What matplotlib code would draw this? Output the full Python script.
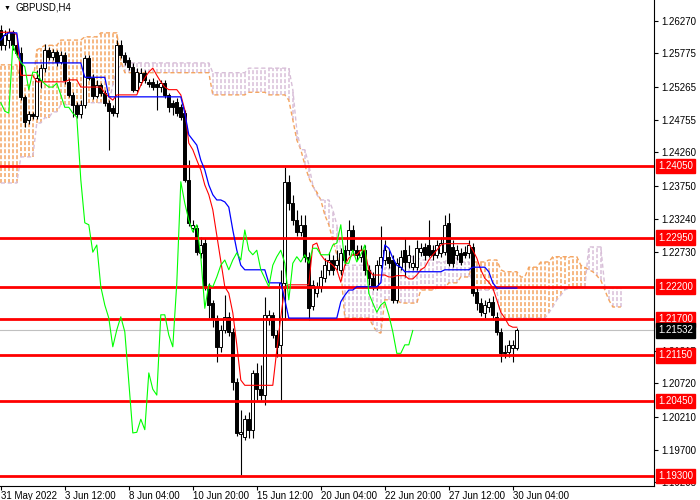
import matplotlib
matplotlib.use('Agg')
import matplotlib.pyplot as plt
import matplotlib.transforms as mtransforms
from matplotlib.colors import to_rgba
import numpy as np

plt.rcParams['font.family'] = ['Liberation Sans', 'DejaVu Sans']

# GBPUSD H4 candles, bar 0 = 31 May 2022 20:00
opens = [1.2613, 1.2590, 1.2598, 1.2610, 1.2590, 1.2578, 1.2511, 1.2476, 1.2485, 1.2482,
         1.2537, 1.2555, 1.2583, 1.2572, 1.2580, 1.2564, 1.2575, 1.2534, 1.2514, 1.2499,
         1.2485, 1.2499, 1.2571, 1.2540, 1.2512, 1.2529, 1.2517, 1.2502, 1.2494, 1.2486,
         1.2590, 1.2575, 1.2567, 1.2557, 1.2522, 1.2534, 1.2548, 1.2534, 1.2534, 1.2531,
         1.2526, 1.2532, 1.2514, 1.2502, 1.2503, 1.2495, 1.2486, 1.2384, 1.2310, 1.2310,
         1.2272, 1.2287, 1.2220, 1.2195, 1.2172, 1.2128, 1.2154, 1.2174, 1.2151, 1.2074,
         1.1994, 1.1990, 1.2017, 1.2001, 1.2088, 1.2063, 1.2054, 1.2169, 1.2177, 1.2146,
         1.2131, 1.2226, 1.2381, 1.2348, 1.2322, 1.2304, 1.2315, 1.2266, 1.2190, 1.2210,
         1.2220, 1.2233, 1.2246, 1.2261, 1.2253, 1.2246, 1.2276, 1.2276, 1.2307, 1.2276,
         1.2266, 1.2276, 1.2246, 1.2233, 1.2220, 1.2253, 1.2261, 1.2266, 1.2261, 1.2200,
         1.2250, 1.2276, 1.2258, 1.2250, 1.2250, 1.2273, 1.2281, 1.2284, 1.2276, 1.2269,
         1.2272, 1.2273, 1.2318, 1.2281, 1.2269, 1.2272, 1.2273, 1.2272, 1.2281, 1.2212,
         1.2195, 1.2180, 1.2189, 1.2197, 1.2174, 1.2151, 1.2120, 1.2120, 1.2126, 1.2126]
highs = [1.2621, 1.2613, 1.2617, 1.2613, 1.2601, 1.2587, 1.2514, 1.2489, 1.2488, 1.2552,
         1.2561, 1.2592, 1.2587, 1.2584, 1.2583, 1.2581, 1.2580, 1.2540, 1.2518, 1.2503,
         1.2506, 1.2575, 1.2575, 1.2546, 1.2537, 1.2532, 1.2522, 1.2506, 1.2499, 1.2598,
         1.2598, 1.2580, 1.2572, 1.2563, 1.2555, 1.2555, 1.2552, 1.2538, 1.2540, 1.2537,
         1.2537, 1.2537, 1.2517, 1.2506, 1.2509, 1.2500, 1.2491, 1.2414, 1.2322, 1.2315,
         1.2296, 1.2295, 1.2226, 1.2200, 1.2177, 1.2161, 1.2207, 1.2181, 1.2157, 1.2080,
         1.2031, 1.2024, 1.2028, 1.2092, 1.2103, 1.2100, 1.2204, 1.2184, 1.2181, 1.2154,
         1.2246, 1.2404, 1.2391, 1.2361, 1.2338, 1.2330, 1.2330, 1.2273, 1.2230, 1.2227,
         1.2246, 1.2264, 1.2273, 1.2269, 1.2276, 1.2279, 1.2284, 1.2322, 1.2315, 1.2284,
         1.2284, 1.2284, 1.2253, 1.2243, 1.2261, 1.2313, 1.2292, 1.2276, 1.2269, 1.2264,
         1.2276, 1.2295, 1.2284, 1.2269, 1.2292, 1.2287, 1.2287, 1.2322, 1.2284, 1.2292,
         1.2296, 1.2330, 1.2333, 1.2292, 1.2284, 1.2279, 1.2282, 1.2292, 1.2287, 1.2218,
         1.2203, 1.2200, 1.2203, 1.2206, 1.2181, 1.2157, 1.2131, 1.2138, 1.2138, 1.2157]
lows = [1.2583, 1.2583, 1.2586, 1.2583, 1.2572, 1.2506, 1.2465, 1.2469, 1.2477, 1.2477,
        1.2525, 1.2549, 1.2567, 1.2567, 1.2558, 1.2561, 1.2531, 1.2511, 1.2480, 1.2479,
        1.2479, 1.2494, 1.2537, 1.2508, 1.2509, 1.2512, 1.2497, 1.2430, 1.2482, 1.2480,
        1.2571, 1.2560, 1.2552, 1.2518, 1.2518, 1.2529, 1.2532, 1.2526, 1.2522, 1.2491,
        1.2518, 1.2509, 1.2488, 1.2483, 1.2482, 1.2476, 1.2381, 1.2313, 1.2304, 1.2269,
        1.2264, 1.2215, 1.2172, 1.2158, 1.2105, 1.2120, 1.2149, 1.2145, 1.2062, 1.1991,
        1.1932, 1.1985, 1.1988, 1.1988, 1.2046, 1.2046, 1.2039, 1.2161, 1.2141, 1.2112,
        1.2046, 1.2169, 1.2338, 1.2315, 1.2298, 1.2298, 1.2258, 1.2169, 1.2184, 1.2204,
        1.2212, 1.2227, 1.2238, 1.2238, 1.2246, 1.2238, 1.2253, 1.2269, 1.2269, 1.2261,
        1.2258, 1.2238, 1.2223, 1.2215, 1.2215, 1.2249, 1.2253, 1.2249, 1.2195, 1.2195,
        1.2246, 1.2235, 1.2249, 1.2246, 1.2246, 1.2267, 1.2261, 1.2266, 1.2261, 1.2264,
        1.2266, 1.2269, 1.2252, 1.2250, 1.2261, 1.2253, 1.2264, 1.2264, 1.2206, 1.2184,
        1.2175, 1.2172, 1.2181, 1.2169, 1.2146, 1.2105, 1.2111, 1.2112, 1.2105, 1.2123]
closes = [1.2590, 1.2606, 1.2610, 1.2590, 1.2578, 1.2511, 1.2472, 1.2485, 1.2482, 1.2540,
          1.2555, 1.2583, 1.2572, 1.2580, 1.2564, 1.2575, 1.2537, 1.2514, 1.2499, 1.2485,
          1.2499, 1.2571, 1.2540, 1.2512, 1.2529, 1.2517, 1.2502, 1.2489, 1.2486, 1.2590,
          1.2575, 1.2564, 1.2557, 1.2522, 1.2549, 1.2548, 1.2537, 1.2531, 1.2526, 1.2526,
          1.2532, 1.2514, 1.2495, 1.2495, 1.2486, 1.2480, 1.2384, 1.2318, 1.2315, 1.2273,
          1.2284, 1.2220, 1.2192, 1.2172, 1.2128, 1.2154, 1.2174, 1.2151, 1.2074, 1.1996,
          1.1997, 1.2017, 1.2001, 1.2088, 1.2063, 1.2054, 1.2177, 1.2177, 1.2146, 1.2128,
          1.2226, 1.2381, 1.2348, 1.2322, 1.2304, 1.2315, 1.2266, 1.2187, 1.2223, 1.2220,
          1.2235, 1.2253, 1.2261, 1.2246, 1.2261, 1.2272, 1.2261, 1.2307, 1.2276, 1.2269,
          1.2276, 1.2246, 1.2233, 1.2220, 1.2253, 1.2266, 1.2276, 1.2256, 1.2200, 1.2256,
          1.2266, 1.2258, 1.2269, 1.2256, 1.2279, 1.2279, 1.2269, 1.2269, 1.2269, 1.2284,
          1.2287, 1.2315, 1.2256, 1.2256, 1.2276, 1.2258, 1.2269, 1.2284, 1.2210, 1.2195,
          1.2181, 1.2192, 1.2197, 1.2177, 1.2151, 1.2118, 1.2118, 1.2131, 1.2131, 1.2153]

# Ichimoku lines
tenkan = [1.2610, 1.2610, 1.2610, 1.2610, 1.2606, 1.2544, 1.2544, 1.2544, 1.2544, 1.2534,
          1.2534, 1.2534, 1.2534, 1.2534, 1.2534, 1.2534, 1.2534, 1.2537, 1.2537, 1.2537,
          1.2526, 1.2526, 1.2526, 1.2526, 1.2526, 1.2526, 1.2517, 1.2511, 1.2506, 1.2514,
          1.2514, 1.2514, 1.2514, 1.2514, 1.2514, 1.2529, 1.2540, 1.2549, 1.2555, 1.2544,
          1.2534, 1.2526, 1.2522, 1.2522, 1.2522, 1.2514, 1.2491, 1.2440, 1.2430, 1.2414,
          1.2399, 1.2376, 1.2361, 1.2338, 1.2299, 1.2261, 1.2220, 1.2210, 1.2180, 1.2131,
          1.2077, 1.2069, 1.2069, 1.2069, 1.2069, 1.2069, 1.2069, 1.2069, 1.2069, 1.2123,
          1.2174, 1.2220, 1.2223, 1.2223, 1.2223, 1.2223, 1.2223, 1.2223, 1.2284, 1.2287,
          1.2269, 1.2261, 1.2258, 1.2253, 1.2246, 1.2227, 1.2253, 1.2264, 1.2269, 1.2269,
          1.2276, 1.2276, 1.2246, 1.2238, 1.2238, 1.2238, 1.2238, 1.2235, 1.2235, 1.2237,
          1.2237, 1.2237, 1.2232, 1.2232, 1.2238, 1.2246, 1.2250, 1.2261, 1.2269, 1.2276,
          1.2284, 1.2286, 1.2286, 1.2286, 1.2286, 1.2286, 1.2286, 1.2286, 1.2276, 1.2264,
          1.2246, 1.2233, 1.2227, 1.2218, 1.2200, 1.2181, 1.2172, 1.2161, 1.2158, 1.2158]
kijun = [1.2598, 1.2606, 1.2609, 1.2609, 1.2609, 1.2563, 1.2563, 1.2563, 1.2563, 1.2563,
         1.2563, 1.2563, 1.2563, 1.2563, 1.2563, 1.2563, 1.2563, 1.2563, 1.2563, 1.2563,
         1.2563, 1.2541, 1.2541, 1.2541, 1.2541, 1.2541, 1.2541, 1.2511, 1.2511, 1.2511,
         1.2511, 1.2511, 1.2511, 1.2511, 1.2511, 1.2511, 1.2511, 1.2511, 1.2511, 1.2511,
         1.2511, 1.2511, 1.2511, 1.2511, 1.2511, 1.2511, 1.2486, 1.2453, 1.2445, 1.2437,
         1.2414, 1.2399, 1.2376, 1.2361, 1.2353, 1.2353, 1.2350, 1.2342, 1.2307, 1.2276,
         1.2253, 1.2246, 1.2246, 1.2246, 1.2246, 1.2246, 1.2246, 1.2226, 1.2226, 1.2226,
         1.2226, 1.2200, 1.2172, 1.2172, 1.2172, 1.2172, 1.2172, 1.2172, 1.2172, 1.2172,
         1.2172, 1.2172, 1.2172, 1.2172, 1.2172, 1.2197, 1.2207, 1.2215, 1.2215, 1.2220,
         1.2220, 1.2220, 1.2220, 1.2220, 1.2220, 1.2226, 1.2284, 1.2279, 1.2264, 1.2253,
         1.2250, 1.2243, 1.2243, 1.2243, 1.2243, 1.2243, 1.2243, 1.2243, 1.2243, 1.2243,
         1.2243, 1.2246, 1.2246, 1.2246, 1.2246, 1.2246, 1.2246, 1.2246, 1.2250, 1.2250,
         1.2250, 1.2250, 1.2243, 1.2226, 1.2218, 1.2218, 1.2218, 1.2218, 1.2218, 1.2218]
span_a = [1.2560, 1.2560, 1.2560, 1.2560, 1.2560, 1.2529, 1.2529, 1.2529, 1.2529, 1.2583,
          1.2586, 1.2590, 1.2590, 1.2590, 1.2590, 1.2598, 1.2598, 1.2598, 1.2598, 1.2598,
          1.2598, 1.2603, 1.2603, 1.2603, 1.2603, 1.2609, 1.2609, 1.2609, 1.2609, 1.2609,
          1.2567, 1.2548, 1.2548, 1.2548, 1.2548, 1.2548, 1.2548, 1.2548, 1.2548, 1.2548,
          1.2548, 1.2548, 1.2548, 1.2548, 1.2548, 1.2548, 1.2548, 1.2548, 1.2548, 1.2548,
          1.2548, 1.2548, 1.2548, 1.2514, 1.2514, 1.2514, 1.2514, 1.2514, 1.2514, 1.2514,
          1.2514, 1.2514, 1.2518, 1.2518, 1.2518, 1.2518, 1.2518, 1.2514, 1.2514, 1.2514,
          1.2514, 1.2514, 1.2506, 1.2476, 1.2445, 1.2430, 1.2407, 1.2387, 1.2374, 1.2365,
          1.2353, 1.2330, 1.2315, 1.2292, 1.2269, 1.2246, 1.2172, 1.2172, 1.2172, 1.2172,
          1.2172, 1.2172, 1.2172, 1.2161, 1.2151, 1.2149, 1.2200, 1.2200, 1.2200, 1.2200,
          1.2195, 1.2195, 1.2195, 1.2195, 1.2195, 1.2215, 1.2215, 1.2215, 1.2215, 1.2218,
          1.2218, 1.2218, 1.2226, 1.2226, 1.2226, 1.2235, 1.2235, 1.2235, 1.2258, 1.2258,
          1.2258, 1.2258, 1.2261, 1.2261, 1.2261, 1.2246, 1.2243, 1.2243, 1.2243, 1.2243,
          1.2235, 1.2235, 1.2250, 1.2250, 1.2250, 1.2258, 1.2258, 1.2258, 1.2266, 1.2266,
          1.2266, 1.2266, 1.2266, 1.2266, 1.2266, 1.2253, 1.2250, 1.2246, 1.2243, 1.2237,
          1.2230, 1.2215, 1.2200, 1.2189, 1.2189, 1.2189]
span_b = [1.2379, 1.2379, 1.2379, 1.2379, 1.2379, 1.2419, 1.2419, 1.2419, 1.2419, 1.2471,
          1.2471, 1.2479, 1.2479, 1.2488, 1.2488, 1.2499, 1.2499, 1.2499, 1.2499, 1.2499,
          1.2499, 1.2502, 1.2502, 1.2502, 1.2502, 1.2502, 1.2502, 1.2502, 1.2529, 1.2555,
          1.2558, 1.2563, 1.2563, 1.2563, 1.2563, 1.2563, 1.2563, 1.2563, 1.2563, 1.2563,
          1.2563, 1.2563, 1.2563, 1.2563, 1.2563, 1.2563, 1.2563, 1.2563, 1.2563, 1.2563,
          1.2563, 1.2563, 1.2563, 1.2548, 1.2548, 1.2548, 1.2548, 1.2548, 1.2548, 1.2548,
          1.2548, 1.2548, 1.2555, 1.2555, 1.2555, 1.2555, 1.2555, 1.2555, 1.2555, 1.2555,
          1.2555, 1.2555, 1.2555, 1.2522, 1.2460, 1.2430, 1.2430, 1.2407, 1.2376, 1.2361,
          1.2353, 1.2353, 1.2353, 1.2338, 1.2315, 1.2276, 1.2253, 1.2253, 1.2253, 1.2253,
          1.2253, 1.2253, 1.2253, 1.2238, 1.2230, 1.2223, 1.2249, 1.2249, 1.2249, 1.2249,
          1.2266, 1.2266, 1.2266, 1.2266, 1.2266, 1.2261, 1.2261, 1.2261, 1.2261, 1.2258,
          1.2258, 1.2258, 1.2264, 1.2264, 1.2264, 1.2258, 1.2258, 1.2258, 1.2215, 1.2215,
          1.2215, 1.2215, 1.2215, 1.2215, 1.2215, 1.2172, 1.2172, 1.2172, 1.2172, 1.2172,
          1.2172, 1.2172, 1.2172, 1.2172, 1.2172, 1.2172, 1.2172, 1.2180, 1.2189, 1.2200,
          1.2207, 1.2215, 1.2218, 1.2220, 1.2220, 1.2220, 1.2220, 1.2281, 1.2281, 1.2281,
          1.2281, 1.2220, 1.2218, 1.2218, 1.2218, 1.2218]
chikou_shift = 26

levels = [1.24050, 1.22950, 1.22200, 1.21700, 1.21150, 1.20450, 1.19300]
last_price = 1.21532
price_ticks = [1.26270, 1.25775, 1.25265, 1.24755, 1.24260, 1.23750, 1.23240, 1.22730,
               1.21215, 1.20720, 1.20210, 1.19700, 1.19205]
time_ticks = [0, 16, 32, 48, 64, 80, 96, 112, 128]
time_labels = ['31 May 2022', '3 Jun 12:00', '8 Jun 04:00', '10 Jun 20:00', '15 Jun 12:00',
               '20 Jun 04:00', '22 Jun 20:00', '27 Jun 12:00', '30 Jun 04:00']

fig = plt.figure(figsize=(7, 5), dpi=100)
ax = fig.add_axes([0, 14 / 500, 654 / 700, 486 / 500])
ax.set_xlim(-0.2, 163.3)
ax.set_ylim(1.19147, 1.26594)

# cloud: dotted histogram between the two spans
xc = np.arange(len(span_a))
a = np.array(span_a)
b = np.array(span_b)
sandy = to_rgba('#F4A460')
thistle = to_rgba('#D8BFD8')
cols = [sandy if a[i] >= b[i] else thistle for i in range(len(a))]
ax.vlines(xc, np.minimum(a, b), np.maximum(a, b), colors=cols,
          linestyles=[(0, (2.6, 1.3))], linewidths=1.1, antialiaseds=True, zorder=1)
ax.plot(xc, a, color=sandy, ls=(0, (3, 2)), lw=1.0, zorder=1)
ax.plot(xc, b, color=thistle, ls=(0, (3, 2)), lw=1.0, zorder=1)

# candles
x = np.arange(len(closes))
o = np.array(opens)
c = np.array(closes)
h = np.array(highs)
l = np.array(lows)
up = c >= o
ax.vlines(x, l, h, color='black', lw=0.8, zorder=3)
lo = np.minimum(o, c)
hh = np.maximum(np.abs(c - o), 0.00006)
ax.bar(x[up], hh[up], bottom=lo[up], width=0.7, color='white',
       edgecolor='black', linewidth=0.7, zorder=4)
ax.bar(x[~up], hh[~up], bottom=lo[~up], width=0.7, color='black',
       edgecolor='black', linewidth=0.7, zorder=4)

# levels
ax.axhline(last_price, color='#C0C0C0', lw=0.8, zorder=2)
for lv in levels:
    ax.axhline(lv, color='red', lw=2.0, zorder=5)

# ichimoku lines
ax.plot(np.arange(len(tenkan)), tenkan, color='red', lw=0.8, zorder=6)
ax.plot(np.arange(len(kijun)), kijun, color='blue', lw=0.9, zorder=6)
chikou = closes[chikou_shift:]
ax.plot(np.arange(len(chikou)), chikou, color='#00FF00', lw=0.8, zorder=6)

# axes styling
for s in ['top', 'left']:
    ax.spines[s].set_visible(False)
ax.spines['right'].set_linewidth(0.8)
ax.spines['bottom'].set_linewidth(0.8)
ax.yaxis.tick_right()
ax.set_yticks(price_ticks)
ax.set_yticklabels(['%.5f' % t for t in price_ticks])
ax.tick_params(axis='y', length=3, width=0.8, pad=2, labelsize=7)
ax.set_xticks(time_ticks)
ax.set_xticklabels(time_labels, ha='left')
ax.tick_params(axis='x', length=3, width=0.8, pad=0.5, labelsize=7)

trans = mtransforms.blended_transform_factory(ax.transAxes, ax.transData)
for lv in levels:
    ax.text(1.0 + 4 / 654, lv, '%.5f' % lv, transform=trans, fontsize=7, color='white',
            va='center', ha='left', clip_on=False, zorder=10,
            bbox=dict(boxstyle='square,pad=0.25', fc='red', ec='red'))
ax.text(1.0 + 4 / 654, last_price, '%.5f' % last_price, transform=trans, fontsize=7,
        color='white', va='center', ha='left', clip_on=False, zorder=10,
        bbox=dict(boxstyle='square,pad=0.25', fc='black', ec='black'))

fig.text(4 / 700, 1 - 8 / 500, '\u25bc', fontsize=5, va='center', ha='left')
fig.text(15 / 700, 1 - 8 / 500, 'GBPUSD,H4', fontsize=7, va='center', ha='left')

fig.savefig('out.png', dpi=100)
